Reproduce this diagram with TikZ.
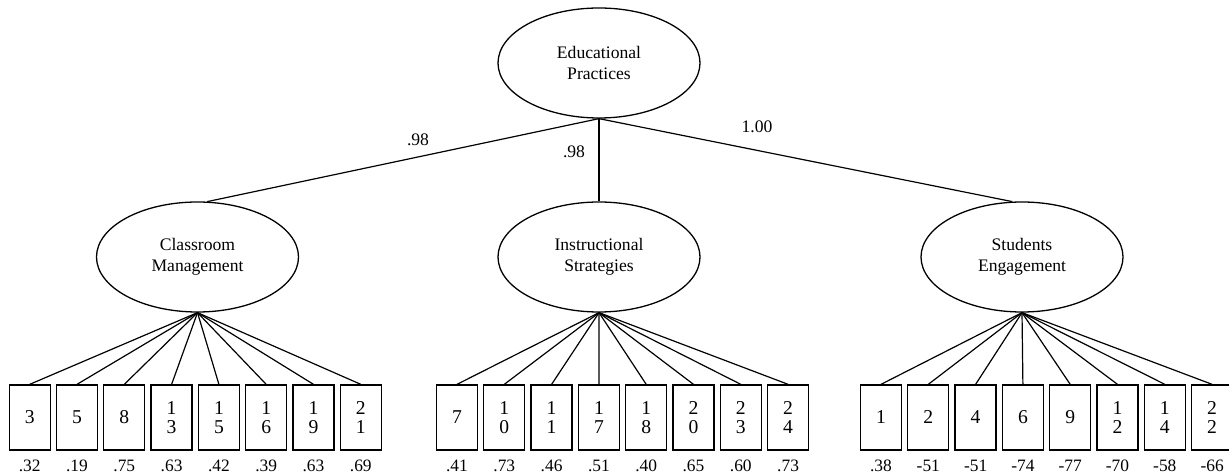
\documentclass[tikz,border=0pt]{standalone}
\usepackage{fontspec}
\setmainfont{Liberation Serif}
\usepackage{tikz}
\usetikzlibrary{shapes.geometric}
\tikzset{
  cfalatent/.style={
    ellipse,
    draw,
    line width=0.65pt,
    inner sep=0pt,
    align=center,
    minimum width=101pt,
    minimum height=55pt,
    font=\fontsize{8.8}{10.3}\selectfont
  },
  cfaitem/.style={draw,line width=0.65pt,inner sep=0pt,align=center,
                  minimum width=20.5pt,minimum height=32.5pt,
                  font=\fontsize{9.8}{9.65}\selectfont},
  cfapath/.style={line width=0.6pt},
  cfaload/.style={font=\fontsize{8.8}{10}\selectfont,inner sep=0pt},
  cfaerror/.style={font=\fontsize{8.7}{10}\selectfont,inner sep=0pt}
}

\begin{document}
\begin{tikzpicture}[x=0.5pt,y=-0.5pt]
  \useasboundingbox (0,0) rectangle (1229,474);
  \node[cfalatent] (edu) at (599,63) {Educational\\Practices};
  \node[cfalatent] (cm) at (197.5,257) {Classroom\\Management};
  \node[cfalatent] (is) at (599,257) {Instructional\\Strategies};
  \node[cfalatent] (se) at (1022,257) {Students\\Engagement};

  \draw[cfapath] (edu.south) -- (cm.80);
  \draw[cfapath] (edu.south) -- (is.north);
  \draw[cfapath] (edu.south) -- (se.100);
  \node[cfaload] (ldcm) at (418,140) {.98};
  \node[cfaload] (ldis) at (574,152) {.98};
  \node[cfaload] (ldse) at (757,127) {1.00};

  % indicators of each factor, with their values below
  \foreach \i/\lab/\err in {1/3/.32,2/5/.19,3/8/.75,4/{1\\3}/.63,
                            5/{1\\5}/.42,6/{1\\6}/.39,7/{1\\9}/.63,8/{2\\1}/.69} {
    \node[cfaitem] (cm\i) at ({29.7+47.3*(\i-1)},417.5) {\lab};
    \node[cfaerror] (cmv\i) at ({29.7+47.3*(\i-1)},466) {\err};
    \draw[cfapath] (cm.south) -- (cm\i.north);
  }
  \foreach \i/\lab/\err in {1/7/.41,2/{1\\0}/.73,3/{1\\1}/.46,4/{1\\7}/.51,
                            5/{1\\8}/.40,6/{2\\0}/.65,7/{2\\3}/.60,8/{2\\4}/.73} {
    \node[cfaitem] (is\i) at ({457+47.3*(\i-1)},417.5) {\lab};
    \node[cfaerror] (isv\i) at ({457+47.3*(\i-1)},466) {\err};
    \draw[cfapath] (is.south) -- (is\i.north);
  }
  \foreach \i/\lab/\err in {1/1/.38,2/2/-51,3/4/-51,4/6/-74,
                            5/9/-77,6/{1\\2}/-70,7/{1\\4}/-58,8/{2\\2}/-66} {
    \node[cfaitem] (se\i) at ({881+47.3*(\i-1)},417.5) {\lab};
    \node[cfaerror] (sev\i) at ({881+47.3*(\i-1)},466) {\err};
    \draw[cfapath] (se.south) -- (se\i.north);
  }
\end{tikzpicture}
\end{document}
